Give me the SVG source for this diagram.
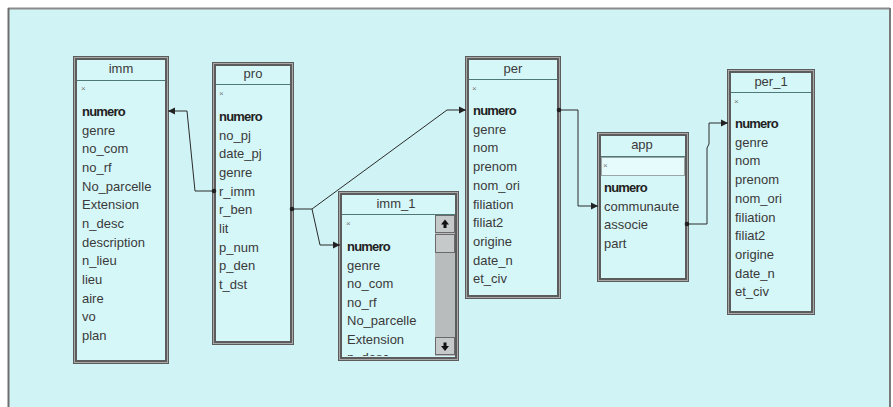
<svg xmlns="http://www.w3.org/2000/svg" width="893" height="407" viewBox="0 0 893 407">
<style>
.tb{fill:#d6f7f8;stroke:#5c5c5c;stroke-width:4}
.tbi{fill:none;stroke:#a8a8a8;stroke-width:1}
.sep{stroke:#4f7878;stroke-width:1}
.t{font-family:"Liberation Sans",Arial,sans-serif;font-size:13px;fill:#3a3a3a}
.ti{font-family:"Liberation Sans",Arial,sans-serif;font-size:13px;fill:#3a3a3a;text-anchor:middle}
.b{font-weight:bold;letter-spacing:-0.8px;fill:#222}
.x{font-family:"Liberation Sans",Arial,sans-serif;font-size:8px;fill:#777}
.c{fill:none;stroke:#2a2a2a;stroke-width:1}
</style>
<defs>
<marker id="ar" markerUnits="userSpaceOnUse" markerWidth="8" markerHeight="8" refX="7" refY="4" orient="auto"><path d="M0,0.5 L7,4 L0,7.5 z" fill="#222"/></marker>
<marker id="dt" markerUnits="userSpaceOnUse" markerWidth="7" markerHeight="7" refX="3.5" refY="3.5"><circle cx="3.5" cy="3.5" r="2.3" fill="#222"/></marker>
<clipPath id="cl1"><rect x="342" y="215" width="93" height="141"/></clipPath>
</defs>
<rect x="0" y="0" width="893" height="407" fill="#ffffff"/>
<rect x="8" y="8" width="882" height="399" fill="#d0f4f5"/>
<line x1="8" y1="8.5" x2="890" y2="8.5" stroke="#8a8a8a" stroke-width="2"/>
<line x1="8.5" y1="8" x2="8.5" y2="407" stroke="#6e6e6e" stroke-width="2"/>
<line x1="890" y1="8" x2="890" y2="407" stroke="#7a7a7a" stroke-width="2"/>

<g id="imm">
<rect class="tb" x="75" y="58" width="92" height="304"/>
<rect class="tbi" x="74.5" y="57.5" width="93" height="305"/>
<line class="sep" x1="77" y1="80.5" x2="165" y2="80.5"/>
<text class="ti" x="121" y="73">imm</text>
<text class="x" x="81" y="91">×</text>
<text class="t b" x="82" y="116">numero</text>
<text class="t" x="82" y="134.7">genre</text>
<text class="t" x="82" y="153.3">no_com</text>
<text class="t" x="82" y="172">no_rf</text>
<text class="t" x="82" y="190.7">No_parcelle</text>
<text class="t" x="82" y="209.3">Extension</text>
<text class="t" x="82" y="228">n_desc</text>
<text class="t" x="82" y="246.7">description</text>
<text class="t" x="82" y="265.3">n_lieu</text>
<text class="t" x="82" y="284">lieu</text>
<text class="t" x="82" y="302.7">aire</text>
<text class="t" x="82" y="321.3">vo</text>
<text class="t" x="82" y="340">plan</text>
</g>

<g id="pro">
<rect class="tb" x="214" y="64" width="78" height="279"/>
<rect class="tbi" x="213.5" y="63.5" width="79" height="280"/>
<line class="sep" x1="216" y1="84.5" x2="290" y2="84.5"/>
<text class="ti" x="253" y="78">pro</text>
<text class="x" x="219" y="96">×</text>
<text class="t b" x="219" y="121">numero</text>
<text class="t" x="219" y="139.7">no_pj</text>
<text class="t" x="219" y="158.3">date_pj</text>
<text class="t" x="219" y="177">genre</text>
<text class="t" x="219" y="195.7">r_imm</text>
<text class="t" x="219" y="214.3">r_ben</text>
<text class="t" x="219" y="233">lit</text>
<text class="t" x="219" y="251.7">p_num</text>
<text class="t" x="219" y="270.3">p_den</text>
<text class="t" x="219" y="289">t_dst</text>
</g>

<g id="imm_1">
<rect class="tb" x="340" y="193" width="117" height="166"/>
<rect class="tbi" x="339.5" y="192.5" width="118" height="167"/>
<line class="sep" x1="342" y1="214.5" x2="455" y2="214.5"/>
<text class="ti" x="396" y="208">imm_1</text>
<g clip-path="url(#cl1)">
<text class="x" x="346" y="226">×</text>
<text class="t b" x="347" y="251">numero</text>
<text class="t" x="347" y="269.5">genre</text>
<text class="t" x="347" y="288">no_com</text>
<text class="t" x="347" y="306.5">no_rf</text>
<text class="t" x="347" y="325">No_parcelle</text>
<text class="t" x="347" y="343.5">Extension</text>
<text class="t" x="347" y="362">n_desc</text>
</g>
<rect x="435" y="215" width="20" height="141" fill="#b8bcbc"/>
<rect x="435.5" y="215.5" width="19" height="17" fill="#c6c9c9" stroke="#6a6a6a"/>
<rect x="435.5" y="234.5" width="19" height="18" fill="#c6c9c9" stroke="#6a6a6a"/>
<rect x="435.5" y="337.5" width="19" height="17" fill="#c6c9c9" stroke="#6a6a6a"/>
<polygon points="445,219.5 441,224.5 443.5,224.5 443.5,228 446.5,228 446.5,224.5 449,224.5" fill="#111"/>
<polygon points="445,351 441,346 443.5,346 443.5,342.5 446.5,342.5 446.5,346 449,346" fill="#111"/>
</g>

<g id="per">
<rect class="tb" x="467" y="58" width="92" height="239"/>
<rect class="tbi" x="466.5" y="57.5" width="93" height="240"/>
<line class="sep" x1="469" y1="79.5" x2="557" y2="79.5"/>
<text class="ti" x="513" y="73">per</text>
<text class="x" x="472" y="91">×</text>
<text class="t b" x="473" y="115">numero</text>
<text class="t" x="473" y="133.7">genre</text>
<text class="t" x="473" y="152.4">nom</text>
<text class="t" x="473" y="171.1">prenom</text>
<text class="t" x="473" y="189.8">nom_ori</text>
<text class="t" x="473" y="208.5">filiation</text>
<text class="t" x="473" y="227.2">filiat2</text>
<text class="t" x="473" y="245.9">origine</text>
<text class="t" x="473" y="264.6">date_n</text>
<text class="t" x="473" y="283.3">et_civ</text>
</g>

<g id="app">
<rect class="tb" x="599" y="134" width="88" height="146"/>
<rect class="tbi" x="598.5" y="133.5" width="89" height="147"/>
<line class="sep" x1="601" y1="156.5" x2="685" y2="156.5"/>
<text class="ti" x="642" y="149">app</text>
<rect x="601.5" y="157.5" width="83" height="18" fill="#e6fbfb" stroke="#555" stroke-dasharray="1,1"/>
<text class="x" x="603" y="168">×</text>
<text class="t b" x="604" y="192">numero</text>
<text class="t" x="604" y="210.7">communaute</text>
<text class="t" x="604" y="229.3">associe</text>
<text class="t" x="604" y="248">part</text>
</g>

<g id="per_1">
<rect class="tb" x="729" y="71" width="84" height="242"/>
<rect class="tbi" x="728.5" y="70.5" width="85" height="243"/>
<line class="sep" x1="731" y1="92.5" x2="811" y2="92.5"/>
<text class="ti" x="771" y="86">per_1</text>
<text class="x" x="734" y="104">×</text>
<text class="t b" x="735" y="128">numero</text>
<text class="t" x="735" y="146.7">genre</text>
<text class="t" x="735" y="165.4">nom</text>
<text class="t" x="735" y="184.1">prenom</text>
<text class="t" x="735" y="202.8">nom_ori</text>
<text class="t" x="735" y="221.5">filiation</text>
<text class="t" x="735" y="240.2">filiat2</text>
<text class="t" x="735" y="258.9">origine</text>
<text class="t" x="735" y="277.6">date_n</text>
<text class="t" x="735" y="296.3">et_civ</text>
</g>

<g id="connectors">
<path class="c" d="M214,191 H195 L187,111 H168" marker-start="url(#dt)" marker-end="url(#ar)"/>
<path class="c" d="M292,209 H312 L447,110 H466" marker-start="url(#dt)" marker-end="url(#ar)"/>
<path class="c" d="M312,209 L320,245 H340" marker-end="url(#ar)"/>
<path class="c" d="M559,110 H578 V206 H598" marker-start="url(#dt)" marker-end="url(#ar)"/>
<path class="c" d="M687,224 H707 V148 L709,144 V123 H728" marker-start="url(#dt)" marker-end="url(#ar)"/>
</g>
</svg>
